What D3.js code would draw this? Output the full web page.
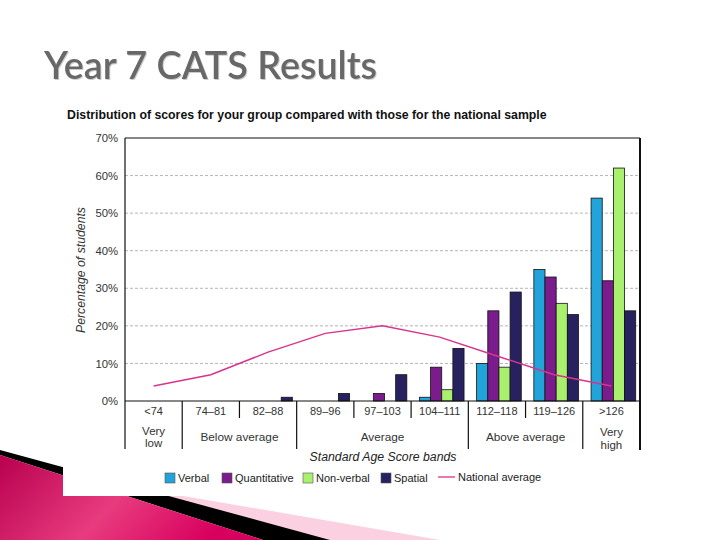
<!DOCTYPE html>
<html>
<head>
<meta charset="utf-8">
<script src="https://cdn.jsdelivr.net/npm/d3@7"></script>
<style>
  html, body { margin: 0; padding: 0; background: #fff; }
  svg { display: block; }
</style>
</head>
<body>
<svg id="chart" width="720" height="540"></svg>
<script>
// ---- data ----
const categories = ["<74", "74\u201381", "82\u201388", "89\u201396", "97\u2013103", "104\u2013111", "112\u2013118", "119\u2013126", ">126"];
const verbal       = [0, 0, 0, 0, 0, 1, 10, 35, 54];
const quantitative = [0, 0, 0, 0, 2, 9, 24, 33, 32];
const nonVerbal    = [0, 0, 0, 0, 0, 3, 9, 26, 62];
const spatial      = [0, 0, 1, 2, 7, 14, 29, 23, 24];
const national     = [4, 7, 13, 18, 20, 17, 12, 7, 4];
const seriesNames  = ["Verbal", "Quantitative", "Non-verbal", "Spatial"];
const groupLabels  = [["Very", "low"], ["Below average"], ["Average"], ["Above average"], ["Very", "high"]];
const groupSpans   = [1, 2, 3, 2, 1];
const yTicks       = [0, 10, 20, 30, 40, 50, 60, 70];

(function () {
const colors = ["#22a3d9", "#7a1c8c", "#a9f06e", "#27225f"];
const lineColor = "#d9348c";

const svg = d3.select("#chart");
const FONT = "'Liberation Sans', Arial, sans-serif";

function fit(sel, width) {
  const fs = +sel.attr("font-size");
  const w = sel.node().getComputedTextLength();
  sel.attr("font-size", fs * width / w);
}

// ---- slide decoration ----
const grad = svg.append("defs").append("linearGradient")
  .attr("id", "mag").attr("x1", "0").attr("y1", "0").attr("x2", "1").attr("y2", "0.3");
grad.append("stop").attr("offset", "0%").attr("stop-color", "#b8004f");
grad.append("stop").attr("offset", "55%").attr("stop-color", "#e83b7e");
grad.append("stop").attr("offset", "100%").attr("stop-color", "#d8005e");

svg.append("polygon").attr("points", "90,480 440,540 328,540 0,452").attr("fill", "#fbd0e0");
svg.append("polygon").attr("points", "0,450 330,540 263,540 0,455").attr("fill", "#000");
svg.append("polygon").attr("points", "0,455 263,540 0,540").attr("fill", "url(#mag)");
// white chart picture
svg.append("rect").attr("x", 63).attr("y", 96).attr("width", 657).attr("height", 400).attr("fill", "#fff");

// ---- slide title ----
const title = svg.append("text")
  .attr("x", 44).attr("y", 79)
  .attr("font-family", "Lato, 'Open Sans', sans-serif")
  .attr("font-weight", 600)
  .attr("font-size", 36)
  .attr("fill", "#686868")
  .style("filter", "drop-shadow(1px 1px 0.6px rgba(0,0,0,0.2))")
  .text("Year 7 CATS Results");
fit(title, 333);

// ---- chart ----
const pLeft = 125, pRight = 640, pTop = 138, pBottom = 401;
const x = d3.scaleBand().domain(categories).range([pLeft, pRight]).padding(0);
const y = d3.scaleLinear().domain([0, 70]).range([pBottom, pTop]);
const bw = x.bandwidth();

// chart title
const ct = svg.append("text").attr("x", 67).attr("y", 119)
  .attr("font-family", FONT).attr("font-weight", "bold").attr("font-size", 12)
  .attr("fill", "#111")
  .text("Distribution of scores for your group compared with those for the national sample");
fit(ct, 480);

// gridlines
svg.append("g").selectAll("line").data(yTicks.filter(t => t > 0 && t < 70)).join("line")
  .attr("x1", pLeft).attr("x2", pRight)
  .attr("y1", d => y(d)).attr("y2", d => y(d))
  .attr("stroke", "#b5b5b5").attr("stroke-width", 1).attr("stroke-dasharray", "3,2");

// y axis
const yAxis = d3.axisLeft(y).tickValues(yTicks).tickFormat(d => d + "%").tickSize(0).tickPadding(7);
const gy = svg.append("g").attr("transform", `translate(${pLeft},0)`).call(yAxis);
gy.select(".domain").remove();
gy.selectAll("text").attr("font-family", FONT).attr("font-size", 11.3).attr("fill", "#333");

const yt = svg.append("text")
  .attr("transform", `translate(85,270) rotate(-90)`)
  .attr("text-anchor", "middle")
  .attr("font-family", FONT).attr("font-style", "italic").attr("font-size", 12).attr("fill", "#333")
  .text("Percentage of students");
fit(yt, 126);

// bars
const seriesData = [verbal, quantitative, nonVerbal, spatial];
const sub = d3.scaleBand().domain(d3.range(4)).range([0.145 * bw, 0.925 * bw]).padding(0);
const gBars = svg.append("g");
seriesData.forEach((vals, si) => {
  gBars.selectAll(null).data(vals.map((v, i) => ({ v, c: categories[i] })).filter(d => d.v > 0)).join("rect")
    .attr("x", d => x(d.c) + sub(si))
    .attr("y", d => y(d.v))
    .attr("width", sub.bandwidth())
    .attr("height", d => y(0) - y(d.v))
    .attr("fill", colors[si])
    .attr("stroke", "#111").attr("stroke-width", 0.8);
});

// national average line
const line = d3.line().x((d, i) => x(categories[i]) + bw / 2).y(d => y(d));
svg.append("path").datum(national).attr("d", line)
  .attr("fill", "none").attr("stroke", lineColor).attr("stroke-width", 1.5);

// frame
svg.append("line").attr("x1", pLeft).attr("x2", pRight).attr("y1", pTop).attr("y2", pTop).attr("stroke", "#111").attr("stroke-width", 1.2);
svg.append("line").attr("x1", pLeft).attr("x2", pLeft).attr("y1", pTop).attr("y2", 449).attr("stroke", "#111").attr("stroke-width", 1.2);
svg.append("line").attr("x1", pRight).attr("x2", pRight).attr("y1", pTop).attr("y2", 450).attr("stroke", "#111").attr("stroke-width", 2);
svg.append("line").attr("x1", pLeft).attr("x2", pRight).attr("y1", pBottom).attr("y2", pBottom).attr("stroke", "#111").attr("stroke-width", 1.2);

// category separators
let cum = 0;
const groupBounds = [0];
groupSpans.forEach(s => { cum += s; groupBounds.push(cum); });
d3.range(1, categories.length).forEach(i => {
  const full = groupBounds.includes(i);
  svg.append("line")
    .attr("x1", pLeft + i * bw).attr("x2", pLeft + i * bw)
    .attr("y1", pBottom).attr("y2", full ? 449 : 418)
    .attr("stroke", "#111").attr("stroke-width", 1.2);
});

// category labels
svg.append("g").selectAll("text").data(categories).join("text")
  .attr("x", d => x(d) + bw / 2).attr("y", 415)
  .attr("text-anchor", "middle")
  .attr("font-family", FONT).attr("font-size", 11).attr("fill", "#333")
  .text(d => d);

// group labels
groupLabels.forEach((lab, gi) => {
  const cx = pLeft + (groupBounds[gi] + groupBounds[gi + 1]) / 2 * bw;
  if (lab.length === 1) {
    svg.append("text").attr("text-anchor", "middle")
      .attr("font-family", FONT).attr("font-size", 11.8).attr("fill", "#333")
      .attr("x", cx).attr("y", 441).text(lab[0]);
  } else {
    const y0 = gi === 0 ? 435 : 436;
    lab.forEach((s, li) => {
      svg.append("text").attr("text-anchor", "middle")
        .attr("font-family", FONT).attr("font-size", 11.5).attr("fill", "#333")
        .attr("x", cx).attr("y", y0 + li * (gi === 0 ? 11.5 : 13)).text(s);
    });
  }
});

// x axis title
const xt = svg.append("text").attr("x", 383).attr("y", 461).attr("text-anchor", "middle")
  .attr("font-family", FONT).attr("font-style", "italic").attr("font-size", 12).attr("fill", "#222")
  .text("Standard Age Score bands");
fit(xt, 147);

// legend
const legendX = [165, 222, 303, 381];
seriesNames.forEach((n, i) => {
  svg.append("rect").attr("x", legendX[i]).attr("y", 473).attr("width", 10).attr("height", 10)
    .attr("fill", colors[i]).attr("stroke", "#555").attr("stroke-width", 0.6);
  svg.append("text").attr("x", legendX[i] + 13).attr("y", 482)
    .attr("font-family", FONT).attr("font-size", 11).attr("fill", "#222").text(n);
});
svg.append("line").attr("x1", 438).attr("x2", 455).attr("y1", 477).attr("y2", 477)
  .attr("stroke", lineColor).attr("stroke-width", 1.3);
svg.append("text").attr("x", 458).attr("y", 481)
  .attr("font-family", FONT).attr("font-size", 11).attr("fill", "#222").text("National average");
})();
</script>
</body>
</html>
